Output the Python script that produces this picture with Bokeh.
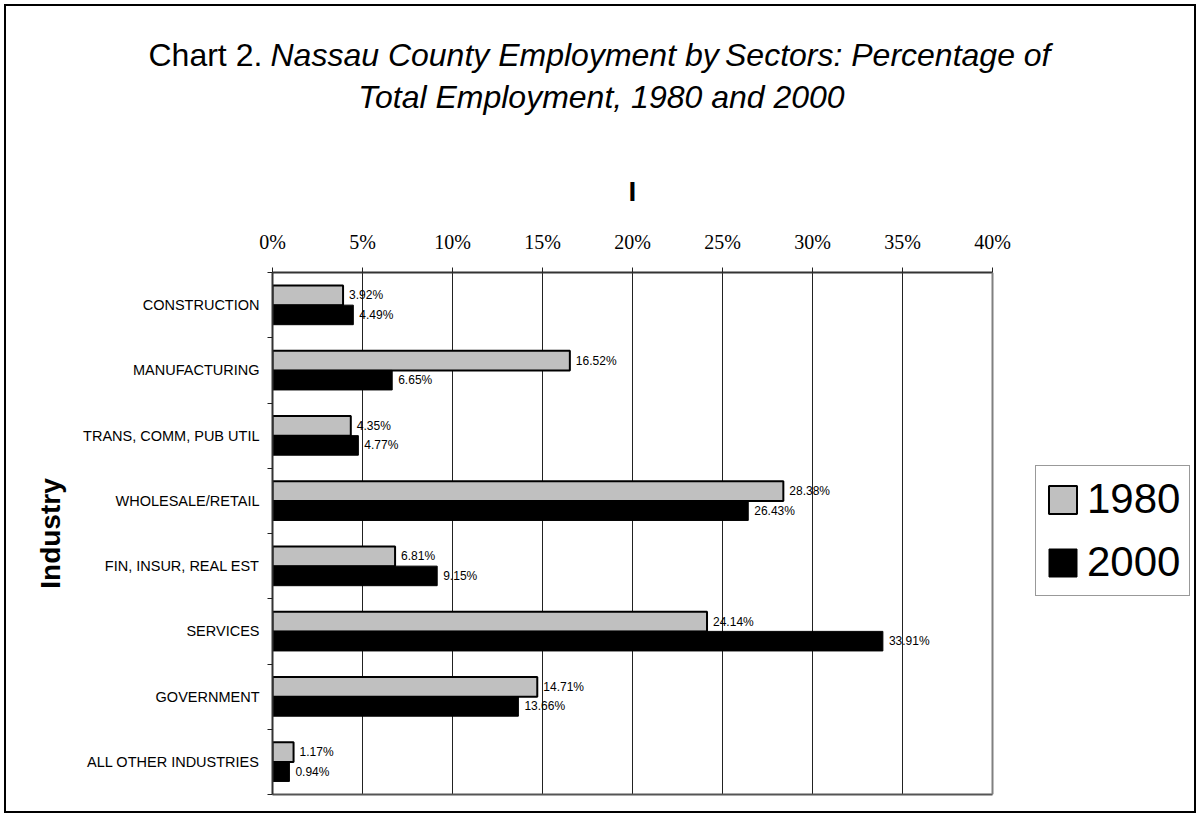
from bokeh.plotting import figure
from bokeh.models import (Range1d, FixedTicker, PrintfTickFormatter, Label, Legend,
                          LegendItem, ColumnDataSource, Span, LinearAxis)
from bokeh.core.properties import value
from bokeh.embed import file_html
from bokeh.resources import INLINE

# ---------------- data ----------------
categories = ["CONSTRUCTION", "MANUFACTURING", "TRANS, COMM, PUB UTIL",
              "WHOLESALE/RETAIL", "FIN, INSUR, REAL EST", "SERVICES",
              "GOVERNMENT", "ALL OTHER INDUSTRIES"]
pct_1980 = [3.92, 16.52, 4.35, 28.38, 6.81, 24.14, 14.71, 1.17]
pct_2000 = [4.49, 6.65, 4.77, 26.43, 9.15, 33.91, 13.66, 0.94]
series_names = ["1980", "2000"]
x_ticks = [0, 5, 10, 15, 20, 25, 30, 35, 40]
title_lead = "Chart 2."
title_line1a = "Nassau County Employment by"
title_line1b = "Sectors: Percentage of"
title_line2 = "Total Employment, 1980 and 2000"
x_axis_title = "I"
y_axis_title = "Industry"

# ---------------- layout ----------------
W, H = 1192, 809
FL, FT, FR, FB = 266, 266, 0, 21
PLOT_W = 720                      # pixel width of the 0-40% plot area
FRAME_W = W - FL - FR             # frame also hosts the legend on the right
X_MIN, X_MAX = x_ticks[0], x_ticks[-1]
X_END = X_MIN + (X_MAX - X_MIN) * FRAME_W / PLOT_W
SANS = "Liberation Sans"
SERIF = "Liberation Serif"
TITLE_SIZE = "32px"
DY = 16                           # shift of title rows after shrinking the axis block

n = len(categories)
centers = [i + 0.5 for i in range(n)]
bounds = [float(i) for i in range(n + 1)]
BAR_H = 0.3

src = ColumnDataSource(dict(
    cat=categories,
    y1980=[c - BAR_H / 2 for c in centers],
    y2000=[c + BAR_H / 2 for c in centers],
    v1980=pct_1980,
    v2000=pct_2000,
    t1980=[f"{v:.2f}%" for v in pct_1980],
    t2000=[f"{v:.2f}%" for v in pct_2000],
))

p = figure(width=W, height=H, x_range=Range1d(X_MIN, X_END), y_range=Range1d(n, 0),
           x_axis_location="above", output_backend="svg", toolbar_location=None,
           min_border_left=FL, min_border_top=FT, min_border_right=FR,
           min_border_bottom=FB, background_fill_color="white",
           border_fill_color="white")
p.styles = {"border": "2px solid black", "margin-left": "4px", "margin-top": "4px"}
p.outline_line_color = None

# plot-area border on the right and bottom
p.add_layout(Span(location=X_MAX, dimension="height", line_color="#808080",
                  line_width=2))
bottom_axis = LinearAxis(ticker=FixedTicker(ticks=[]), bounds=(X_MIN, X_MAX),
                         axis_line_color="#555555", axis_line_width=2,
                         major_tick_line_color=None, minor_tick_line_color=None,
                         major_label_text_font_size="0px")
p.add_layout(bottom_axis, "below")

r1 = p.hbar(y="y1980", left=0, right="v1980", height=BAR_H, source=src,
            fill_color="#C0C0C0", line_color="black", line_width=2)
r2 = p.hbar(y="y2000", left=0, right="v2000", height=BAR_H, source=src,
            fill_color="black", line_color="black", line_width=1)

p.text(x="v1980", y="y1980", text="t1980", source=src, x_offset=6,
       text_baseline="middle", text_align="left", text_font=value(SANS),
       text_font_size="12px", text_color="black")
p.text(x="v2000", y="y2000", text="t2000", source=src, x_offset=6,
       text_baseline="middle", text_align="left", text_font=value(SANS),
       text_font_size="12px", text_color="black")

# x axis (top)
xa = p.xaxis[0]
xa.bounds = (X_MIN, X_MAX)
xa.ticker = FixedTicker(ticks=x_ticks, minor_ticks=[])
xa.formatter = PrintfTickFormatter(format="%d%%")
xa.major_label_text_font = SERIF
xa.major_label_text_font_size = "20px"
xa.major_label_text_color = "black"
xa.major_tick_in = 0
xa.major_tick_out = 5
xa.major_tick_line_color = "#222222"
xa.minor_tick_line_color = None
xa.axis_line_color = "#333333"
xa.axis_line_width = 2
xa.major_label_standoff = 15
xa.axis_label = " "               # keeps the space; the visible title is a Label
xa.axis_label_text_font = SANS
xa.axis_label_text_font_style = "bold"
xa.axis_label_text_font_size = "28px"
xa.axis_label_text_color = "black"
xa.axis_label_standoff = 22 - DY

# y axis (left)
ya = p.yaxis[0]
ya.ticker = FixedTicker(ticks=centers, minor_ticks=bounds)
ya.major_label_overrides = {c: name for c, name in zip(centers, categories)}
ya.major_tick_in = 0
ya.major_tick_out = 0
ya.minor_tick_in = 0
ya.minor_tick_out = 5
ya.minor_tick_line_color = "#222222"
ya.axis_line_color = "#333333"
ya.axis_line_width = 2
ya.major_label_text_font = SANS
ya.major_label_text_font_size = "14.5px"
ya.major_label_text_color = "black"
ya.major_label_standoff = 8
ya.axis_label = y_axis_title
ya.axis_label_text_font = SANS
ya.axis_label_text_font_style = "bold"
ya.axis_label_text_font_size = "28px"
ya.axis_label_text_color = "black"
ya.axis_label_standoff = 14

p.xgrid.grid_line_color = "#222222"
p.xgrid.grid_line_width = 1
p.ygrid.grid_line_color = None

# legend (inside the wide frame, right of the plot area)
legend = Legend(items=[LegendItem(label=series_names[0], renderers=[r1]),
                       LegendItem(label=series_names[1], renderers=[r2])],
                location=(PLOT_W + 43, 198), orientation="vertical",
                glyph_width=35, glyph_height=35, label_standoff=7,
                label_text_font=SANS, label_text_font_size="42px",
                label_text_color="black", padding=9, spacing=15, margin=0,
                border_line_color="#333333", border_line_width=1,
                background_fill_color="white", background_fill_alpha=1)
p.add_layout(legend)

# title (labels stacked in the top panel; each narrower than the frame)
def title_label(text, x, y, align, italic, size=TITLE_SIZE, bold=False):
    style = "bold" if bold else ("italic" if italic else "normal")
    return Label(x=x, y=y, x_units="screen", y_units="screen", text=text,
                 text_font=SANS, text_font_size=size, text_font_style=style,
                 text_align=align, text_baseline="alphabetic", text_color="black")

p.add_layout(title_label(title_lead, -124, 117 + DY, "left", False), "above")
p.add_layout(title_label(title_line1a, -2, 81 + DY, "left", True), "above")
p.add_layout(title_label(title_line2, 329, 3 + DY, "center", True), "above")
p.add_layout(title_label(title_line1b, 778, 9 + DY, "right", True), "above")
# x-axis title centred over the 0-40% plot area
p.add_layout(title_label(x_axis_title, PLOT_W / 2, -164 + DY, "center", False,
                         size="28px", bold=True), "above")

open("out.html", "w").write(file_html(p, INLINE))
